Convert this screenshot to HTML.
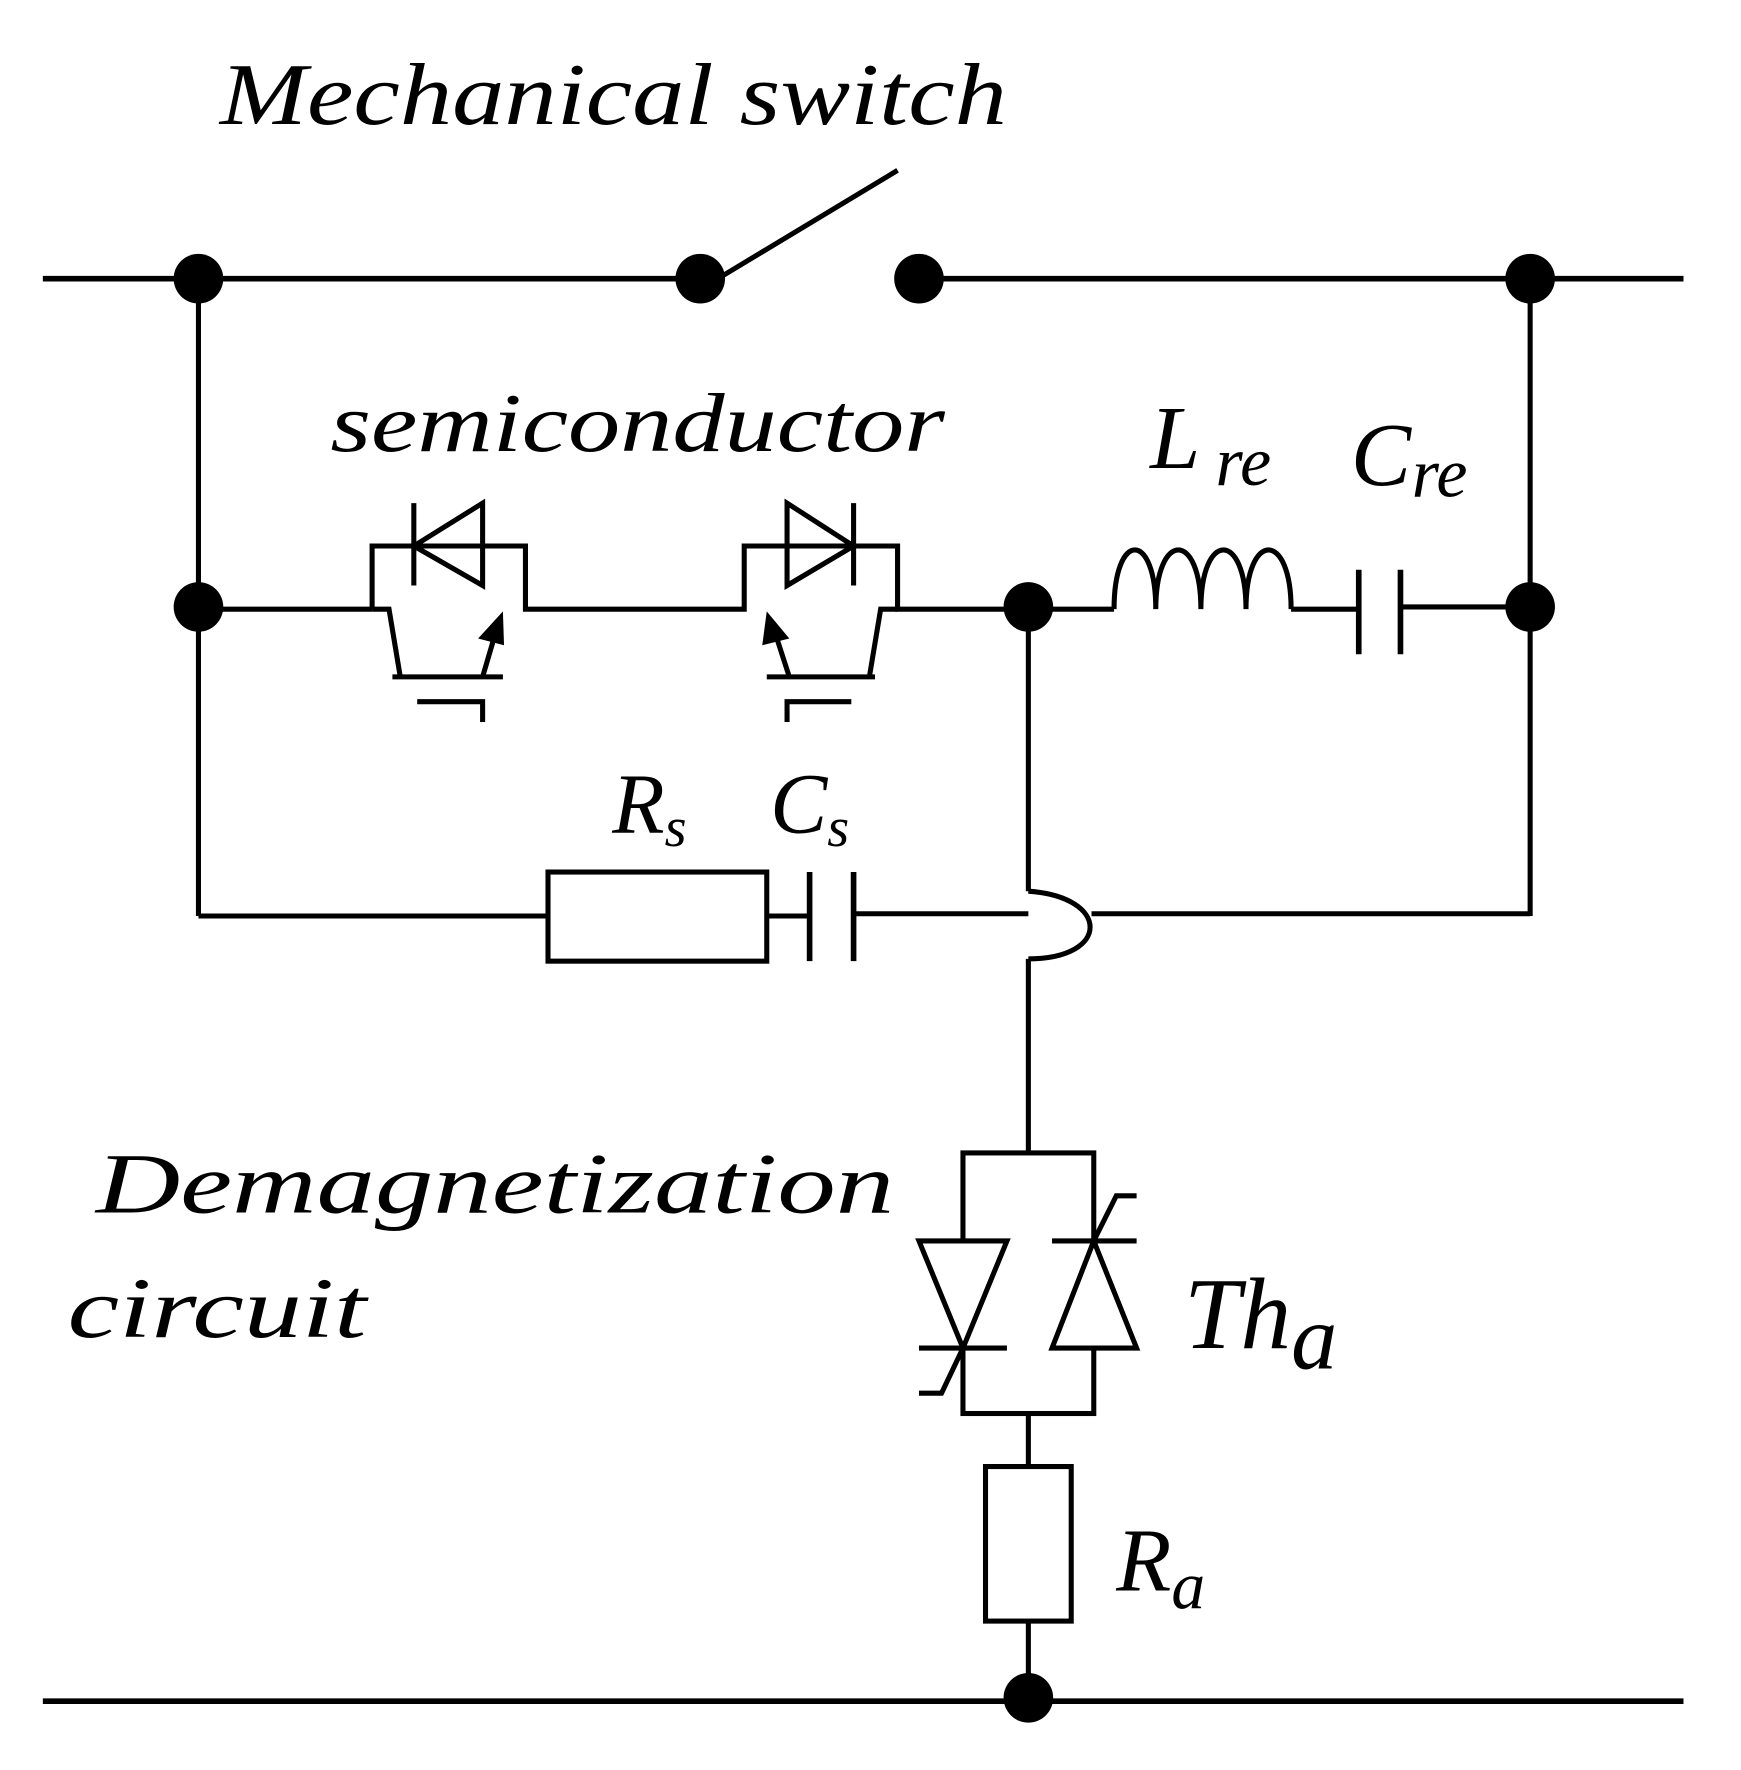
<!DOCTYPE html>
<html><head><style>html,body{margin:0;padding:0;background:#fff}svg{display:block}</style></head>
<body>
<svg width="1741" height="1770" viewBox="0 0 1544 1569" preserveAspectRatio="none" xmlns="http://www.w3.org/2000/svg">
<g fill="none" stroke="#000" stroke-width="4.5">
<line x1="38" y1="247" x2="621" y2="247" stroke-width="5"/>
<line x1="815" y1="247" x2="1493" y2="247" stroke-width="5"/>
<line x1="640" y1="245" x2="796" y2="151"/>
<line x1="176" y1="247" x2="176" y2="812"/>
<line x1="1357" y1="247" x2="1357" y2="812"/>
<line x1="176" y1="540" x2="330" y2="540"/>
<polyline points="330,540 330,484 466,484 466,540 660,540 660,484 796,484 796,540 912,540"/>
<polygon points="367,484 428,446 428,519"/>
<line x1="367" y1="446" x2="367" y2="519"/>
<polyline points="330,540 345,540 355,600"/>
<line x1="348" y1="600" x2="446" y2="600"/>
<line x1="428" y1="600" x2="438" y2="566"/>
<polyline points="370,622 428,622 428,640"/>
<polygon points="757,484 698,446 698,519"/>
<line x1="757" y1="446" x2="757" y2="519"/>
<polyline points="796,540 781,540 771,600"/>
<line x1="680" y1="600" x2="776" y2="600"/>
<line x1="700" y1="600" x2="689" y2="566"/>
<polyline points="755,622 698,622 698,640"/>
<line x1="912" y1="540" x2="988" y2="540"/>
<path d="M988,540 C988,470 1025,470 1025,540 C1025,470 1065,470 1065,540 C1065,470 1105,470 1105,540 C1105,470 1145,470 1145,540"/>
<line x1="1145" y1="540" x2="1205" y2="540"/>
<line x1="1205" y1="505" x2="1205" y2="580" stroke-width="5"/>
<line x1="1242" y1="505" x2="1242" y2="580" stroke-width="5"/>
<line x1="1242" y1="538" x2="1357" y2="538"/>
<line x1="912" y1="540" x2="912" y2="790"/>
<path d="M912,790 C985,795 985,850 912,850"/>
<line x1="912" y1="850" x2="912" y2="1022"/>
<line x1="176" y1="812" x2="486" y2="812"/>
<rect x="486" y="773" width="194" height="79"/>
<line x1="680" y1="812" x2="718" y2="812"/>
<line x1="718" y1="773" x2="718" y2="852" stroke-width="5"/>
<line x1="757" y1="773" x2="757" y2="852" stroke-width="5"/>
<line x1="757" y1="810" x2="912" y2="810"/>
<line x1="968" y1="810" x2="1357" y2="810"/>
<rect x="854" y="1022" width="116" height="231"/>
<polygon points="815,1100 893,1100 854,1195" fill="#fff"/>
<line x1="815" y1="1195" x2="893" y2="1195"/>
<polyline points="854,1195 835,1235 815,1235"/>
<polygon points="933,1195 1008,1195 970,1100" fill="#fff"/>
<line x1="933" y1="1100" x2="1008" y2="1100"/>
<polyline points="970,1100 990,1060 1008,1060"/>
<line x1="912" y1="1253" x2="912" y2="1300"/>
<rect x="874" y="1300" width="76" height="137"/>
<line x1="912" y1="1437" x2="912" y2="1505"/>
<line x1="38" y1="1508" x2="1493" y2="1508" stroke-width="5"/>
</g>
<g fill="#000">
<ellipse cx="176" cy="247" rx="22" ry="22"/>
<ellipse cx="621" cy="247" rx="22" ry="22"/>
<ellipse cx="815" cy="247" rx="22" ry="22"/>
<ellipse cx="1357" cy="247" rx="22" ry="22"/>
<ellipse cx="176" cy="538" rx="22" ry="22"/>
<ellipse cx="912" cy="538" rx="22" ry="22"/>
<ellipse cx="1357" cy="538" rx="22" ry="22"/>
<ellipse cx="912" cy="1505" rx="22" ry="22"/>
<polygon points="446,542 447,572 424,566"/>
<polygon points="680,542 700,566 676,572"/>
</g>
<g font-family="Liberation Serif, serif" font-style="italic" fill="#000">
<text x="195" y="110" font-size="78" textLength="698" lengthAdjust="spacingAndGlyphs">Mechanical switch</text>
<text x="293" y="400" font-size="74" textLength="545" lengthAdjust="spacingAndGlyphs">semiconductor</text>
<text x="1020" y="415" font-size="80">L</text>
<text x="1078" y="430" font-size="62">re</text>
<text x="1198" y="430" font-size="80">C</text>
<text x="1252" y="440" font-size="62">re</text>
<text x="543" y="738" font-size="76">R<tspan font-size="50" dy="12">s</tspan></text>
<text x="683" y="738" font-size="76">C<tspan font-size="50" dy="12">s</tspan></text>
<text x="85" y="1075" font-size="76" textLength="708" lengthAdjust="spacingAndGlyphs">Demagnetization</text>
<text x="60" y="1185" font-size="76" textLength="265" lengthAdjust="spacingAndGlyphs">circuit</text>
<text x="1050" y="1195" font-size="90">Th<tspan font-size="82" dy="18">a</tspan></text>
<text x="990" y="1410" font-size="80">R<tspan font-size="60" dy="16">a</tspan></text>
</g>
</svg>
</body></html>
